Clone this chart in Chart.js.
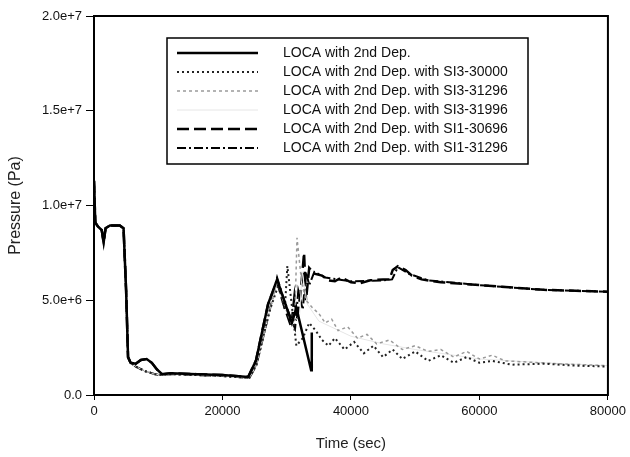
<!DOCTYPE html>
<html>
<head>
<meta charset="utf-8">
<script src="https://cdn.jsdelivr.net/npm/chart.js@4"></script>
<style>
    body { margin: 0; background: #fff; }
    #wrap { width: 630px; height: 457px; }
</style>
</head>
<body>
<div id="wrap"><canvas id="graph-container" width="630" height="457"></canvas></div>
<script>
// shared start of every run (blowdown)
const startTime = [0, 200, 600, 1200, 1500, 1800, 2500, 4000, 4600, 5000, 5300, 5700];
const startP = [1.13e7, 9.1e6, 8.9e6, 8.7e6, 8.05e6, 8.8e6, 8.95e6, 8.95e6, 8.8e6, 5.5e6, 2.0e6, 1.7e6];
// low pressure stretch, two variants
const lowTime = [6500, 8000, 9500, 10500, 12000, 16000, 20000, 24200, 25300, 27300];
const lowP = [1.5e6, 1.25e6, 1.1e6, 1.05e6, 1.1e6, 1.05e6, 1.0e6, 0.9e6, 1.6e6, 4.4e6];
const bumpTime = [6500, 7300, 8200, 9000, 9800, 10600, 12000, 16000, 20000, 24000, 25200, 27100];
const bumpP = [1.65e6, 1.85e6, 1.9e6, 1.7e6, 1.35e6, 1.1e6, 1.15e6, 1.1e6, 1.05e6, 0.95e6, 1.8e6, 4.8e6];

// tails of each case
const baseTime = [28500, 30000, 30800, 31500, 32200, 33800, 33900];
const baseP = [6.1e6, 4.6e6, 3.8e6, 4.6e6, 3.6e6, 1.3e6, 3.3e6];

const si3aTime = [28700, 29700, 30100, 30600, 31500, 32500, 33500, 34500, 35500, 36500, 37500, 39000, 40500, 42000, 43500, 45000, 46500, 48000, 50000, 52000, 54000, 56000, 58000, 60000, 62000, 65000, 70000, 75000, 80000];
const si3aP = [5.8e6, 4.5e6, 6.8e6, 5.3e6, 2.6e6, 3.0e6, 3.8e6, 3.4e6, 2.9e6, 2.6e6, 3.0e6, 2.4e6, 2.8e6, 2.2e6, 2.6e6, 2.0e6, 2.4e6, 1.9e6, 2.3e6, 1.8e6, 2.1e6, 1.7e6, 2.0e6, 1.7e6, 1.8e6, 1.6e6, 1.65e6, 1.55e6, 1.5e6];

const si3bTime = [28500, 29800, 30800, 31300, 31600, 32300, 33000, 34000, 35000, 36000, 37000, 38000, 39500, 41000, 42500, 44000, 46000, 48000, 50000, 52000, 54000, 56000, 58000, 60000, 62000, 64000, 67000, 72000, 80000];
const si3bP = [6.0e6, 4.6e6, 3.7e6, 4.5e6, 8.3e6, 6.0e6, 5.0e6, 4.6e6, 4.3e6, 3.8e6, 4.0e6, 3.4e6, 3.6e6, 3.0e6, 3.2e6, 2.7e6, 2.9e6, 2.4e6, 2.6e6, 2.3e6, 2.4e6, 2.0e6, 2.3e6, 1.9e6, 2.1e6, 1.8e6, 1.75e6, 1.65e6, 1.55e6];

const si3cTime = [28500, 30000, 31000, 32000, 32400, 33200, 35000, 40000, 45000, 50000, 60000, 70000, 80000];
const si3cP = [6.0e6, 4.5e6, 3.8e6, 4.2e6, 6.5e6, 4.8e6, 3.9e6, 3.1e6, 2.7e6, 2.4e6, 1.9e6, 1.7e6, 1.55e6];

const si1aTime = [28500, 29500, 30700, 31200, 31600, 32200, 32700, 33000, 33500, 34300, 35500, 36500, 37500, 38500, 40000, 41500, 43000, 45000, 46000, 46500, 47300, 48500, 49500, 51000, 54000, 58000, 62000, 66000, 70000, 75000, 80000];
const si1aP = [6.0e6, 4.8e6, 3.6e6, 5.2e6, 4.0e6, 5.5e6, 7.5e6, 5.0e6, 6.7e6, 6.4e6, 6.3e6, 6.05e6, 6.0e6, 6.2e6, 5.95e6, 5.9e6, 6.05e6, 6.1e6, 6.1e6, 6.6e6, 6.8e6, 6.6e6, 6.3e6, 6.1e6, 5.95e6, 5.85e6, 5.75e6, 5.65e6, 5.55e6, 5.5e6, 5.45e6];

const si1bTime = [28500, 29600, 30800, 31300, 31800, 32500, 33000, 33500, 34300, 36000, 40000, 45000, 46400, 47300, 49000, 52000, 60000, 70000, 80000];
const si1bP = [6.2e6, 5.0e6, 3.9e6, 3.5e6, 5.5e6, 4.5e6, 6.5e6, 5.8e6, 6.5e6, 6.2e6, 6.0e6, 6.05e6, 6.1e6, 6.75e6, 6.4e6, 6.05e6, 5.8e6, 5.55e6, 5.45e6];

const seriesNames = [
    'LOCA with 2nd Dep.',
    'LOCA with 2nd Dep. with SI3-30000',
    'LOCA with 2nd Dep. with SI3-31296',
    'LOCA with 2nd Dep. with SI3-31996',
    'LOCA with 2nd Dep. with SI1-30696',
    'LOCA with 2nd Dep. with SI1-31296'
];
const xTicks = [0, 20000, 40000, 60000, 80000];
const yTicks = [0, 5e6, 1e7, 1.5e7, 2e7];

function toPoints(times, values) {
    return times.map((t, i) => ({x: t, y: values[i]}));
}

function build(mid, midP, tail, tailP) {
    return toPoints(startTime.concat(mid, tail), startP.concat(midP, tailP));
}

const styles = [
    {color: '#000', width: 2.5, dash: []},
    {color: '#222', width: 2, dash: [2, 3]},
    {color: '#9a9a9a', width: 1.5, dash: [3, 3]},
    {color: '#e6e6e6', width: 1, dash: []},
    {color: '#000', width: 2.5, dash: [12, 5]},
    {color: '#000', width: 2, dash: [9, 3, 2, 3]}
];

const seriesData = [
    build(bumpTime, bumpP, baseTime, baseP),
    build(lowTime, lowP, si3aTime, si3aP),
    build(lowTime, lowP, si3bTime, si3bP),
    build(lowTime, lowP, si3cTime, si3cP),
    build(bumpTime, bumpP, si1aTime, si1aP),
    build(lowTime, lowP, si1bTime, si1bP)
];

const fontFamily = '"Liberation Sans", Arial, sans-serif';

// frame round the plot and the boxed legend
const framePlugin = {
    id: 'frame',
    afterDraw(chart) {
        const ctx = chart.ctx;
        const a = chart.chartArea;
        ctx.save();
        ctx.strokeStyle = '#000';
        ctx.lineWidth = 2;
        ctx.setLineDash([]);
        ctx.strokeRect(a.left, a.top, a.right - a.left, a.bottom - a.top);

        // legend box
        ctx.fillStyle = '#fff';
        ctx.fillRect(167, 38, 361, 126);
        ctx.lineWidth = 1.5;
        ctx.strokeRect(167, 38, 361, 126);
        ctx.font = '14px ' + fontFamily;
        ctx.textBaseline = 'middle';
        chart.data.datasets.forEach((ds, i) => {
            const y = 53 + i * 19;
            ctx.strokeStyle = ds.borderColor;
            ctx.lineWidth = ds.borderWidth;
            ctx.setLineDash(ds.borderDash);
            ctx.beginPath();
            ctx.moveTo(177, y);
            ctx.lineTo(258, y);
            ctx.stroke();
            ctx.setLineDash([]);
            ctx.fillStyle = '#111';
            ctx.fillText(ds.label, 283, y);
        });
        ctx.restore();
    }
};

const ctx = document.getElementById('graph-container').getContext('2d');

new Chart(ctx, {
    type: 'line',
    data: {
        datasets: seriesNames.map((name, i) => ({
            label: name,
            data: seriesData[i],
            borderColor: styles[i].color,
            borderWidth: styles[i].width,
            borderDash: styles[i].dash,
            pointRadius: 0,
            tension: 0,
            fill: false
        }))
    },
    options: {
        responsive: false,
        animation: false,
        layout: {padding: {top: 16, right: 20, left: 0, bottom: 0}},
        plugins: {legend: {display: false}, tooltip: {enabled: false}},
        scales: {
            x: {
                type: 'linear',
                min: 0,
                max: 80000,
                afterBuildTicks: axis => { axis.ticks = xTicks.map(v => ({value: v})); },
                afterFit: axis => { axis.height = 62; },
                grid: {drawOnChartArea: false, color: '#000', tickLength: 5},
                border: {color: '#000', width: 2},
                ticks: {
                    color: '#111',
                    font: {family: fontFamily, size: 13},
                    padding: 4,
                    maxRotation: 0,
                    callback: v => String(v)
                },
                title: {
                    display: true,
                    text: 'Time (sec)',
                    color: '#222',
                    font: {family: fontFamily, size: 15},
                    padding: {top: 4}
                }
            },
            y: {
                min: 0,
                max: 2e7,
                afterBuildTicks: axis => { axis.ticks = yTicks.map(v => ({value: v})); },
                afterFit: axis => { axis.width = 94; },
                grid: {drawOnChartArea: false, color: '#000', tickLength: 8},
                border: {color: '#000', width: 2},
                ticks: {
                    color: '#111',
                    font: {family: fontFamily, size: 13},
                    padding: 4,
                    callback: v => v === 0 ? '0.0' : v.toExponential(1)
                },
                title: {
                    display: true,
                    text: 'Pressure (Pa)',
                    color: '#222',
                    font: {family: fontFamily, size: 16},
                    padding: {top: 6, bottom: 4}
                }
            }
        }
    },
    plugins: [framePlugin]
});
</script>
</body>
</html>
